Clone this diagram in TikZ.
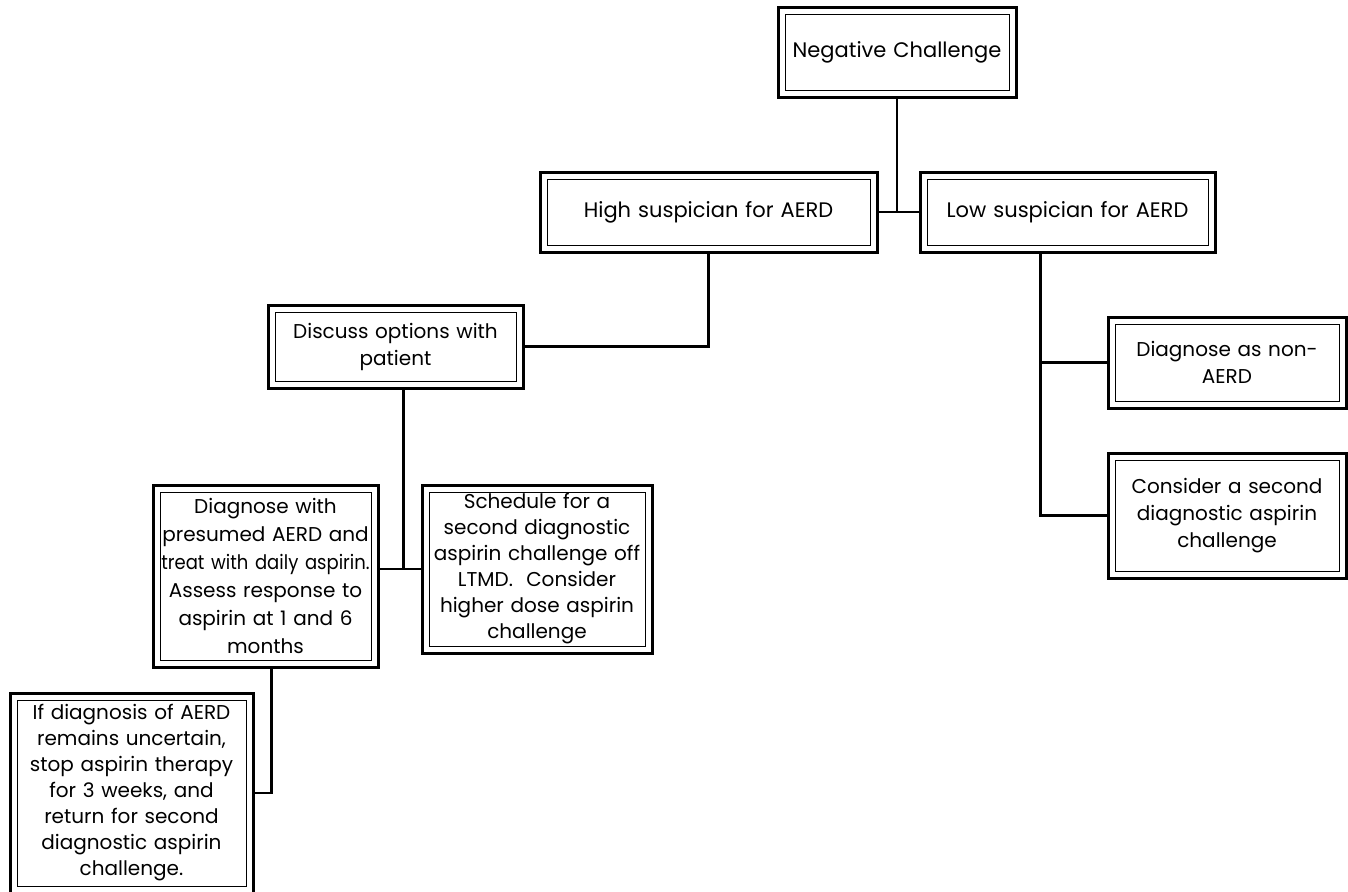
\documentclass[tikz,border=0pt]{standalone}
\usepackage{fontspec}
\setmainfont{Poppins}
\newfontfamily\narrowfont{Poppins}[FakeStretch=0.9]
\usetikzlibrary{calc,positioning}

\begin{document}
\begin{tikzpicture}
          [ x=1pt, y=-1pt,
            element/.style={
              rectangle,
              draw,
              line width=3pt,
              align=center,
              inner sep=0pt,
              font=\fontsize{20}{27}\selectfont,
              path picture={
                \draw[line width=1pt]
                  ([shift={(7pt,7pt)}]path picture bounding box.south west)
                  rectangle
                  ([shift={(-7pt,-7pt)}]path picture bounding box.north east);
              }},
            line/.style={
              draw,
              line width=2.4pt,
            },
          ]

          \useasboundingbox (0,0) rectangle (1348,891);

          \node (neg) [element, minimum width=238pt, minimum height=89pt, text width=230pt,
            font=\fontsize{21}{27}\selectfont]
            at (897,52.5) {Negative Challenge};

          \node (high) [element, minimum width=337pt, minimum height=80pt, text width=320pt,
            font=\fontsize{21}{27}\selectfont]
            at (708.5,212) {High suspician for AERD};
          \node (low) [element, minimum width=295pt, minimum height=80pt, text width=280pt,
            font=\fontsize{21}{27}\selectfont]
            at (1067.5,212) {Low suspician for AERD};

          \node (disc) [element, minimum width=255pt, minimum height=83pt, text width=240pt]
            at (395.5,346.5) {Discuss options with\\patient};

          \node (nonaerd) [element, minimum width=238pt, minimum height=91pt, text width=226pt]
            at (1227,362.5) {Diagnose as non-\\AERD};
          \node (consider) [element, minimum width=238pt, minimum height=125pt, text width=226pt]
            at (1227,515.5) {Consider a second\\diagnostic aspirin\\challenge};

          \node (diagwith) [element, minimum width=225pt, minimum height=182pt, text width=219pt,
            font=\fontsize{20}{28}\selectfont]
            at (265.5,576) {Diagnose with\\presumed AERD and\\\makebox[\linewidth]{\narrowfont treat with daily aspirin.}\\Assess response to\\aspirin at 1 and 6\\months};
          \node (sched) [element, minimum width=230pt, minimum height=168pt, text width=224pt,
            font=\fontsize{20}{26}\selectfont]
            at (537,569) {Schedule for a\\second diagnostic\\\makebox[\linewidth]{aspirin challenge off}\\LTMD.\ \ Consider\\\makebox[\linewidth]{higher dose aspirin}\\challenge};

          \node (ifdiag) [element, minimum width=243pt, minimum height=200pt, text width=235pt,
            font=\fontsize{20}{26}\selectfont]
            at (131.5,793) {If diagnosis of AERD\\remains uncertain,\\\makebox[\linewidth]{stop aspirin therapy}\\for 3 weeks, and\\return for second\\diagnostic aspirin\\challenge.};

          % tree connectors
          \coordinate (negjoin) at (neg.south |- high.east);
          \draw[line] (neg.south) -- (negjoin);
          \draw[line] (high.east) -- (low.west);
          \draw[line] (high.south) |- (disc.east);

          \coordinate (lowtrunk) at ([xshift=-27pt]low.south);
          \draw[line] (lowtrunk) |- (consider.west);
          \draw[line] (lowtrunk |- nonaerd.west) -- (nonaerd.west);

          \coordinate (discjoin) at ([xshift=8pt]disc.south |- sched.west);
          \draw[line] ([xshift=8pt]disc.south) -- (discjoin);
          \draw[line] (diagwith.east |- sched.west) -- (sched.west);
          \draw[line] ([xshift=6pt]diagwith.south) |- (ifdiag.east);

        \end{tikzpicture}
\end{document}
